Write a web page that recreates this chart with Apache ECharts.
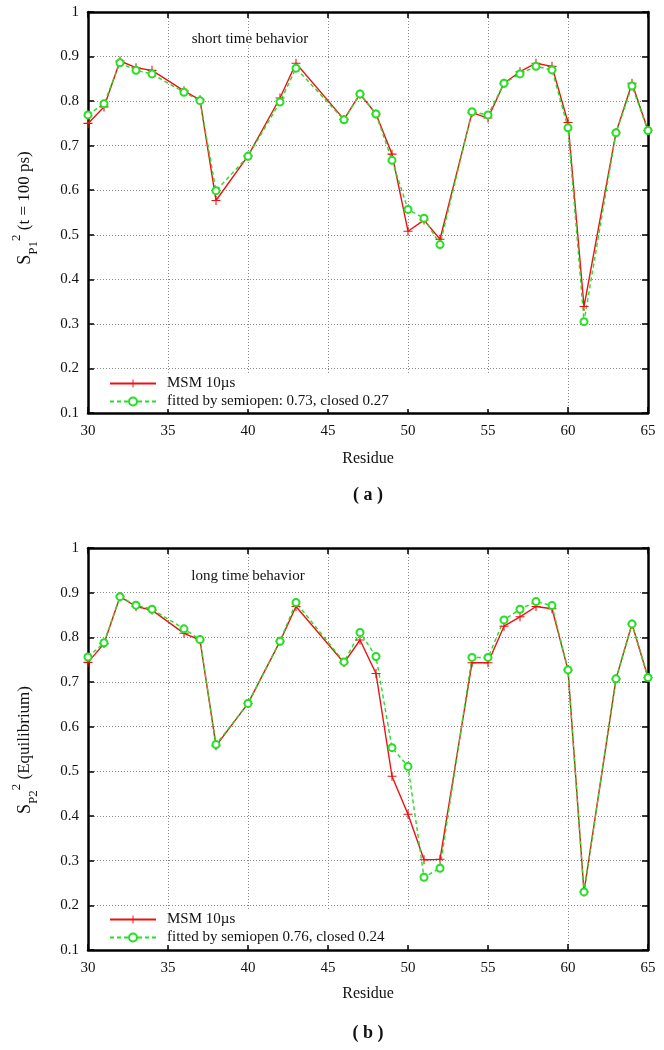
<!DOCTYPE html>
<html><head><meta charset="utf-8">
<script src="https://cdn.jsdelivr.net/npm/echarts@6/dist/echarts.min.js"></script>
<style>html,body{margin:0;padding:0;background:#fff}#c{width:664px;height:1050px}</style>
</head><body><div id="c"></div>
<script>
// ---- data ----
const residues = [30,31,32,33,34,36,37,38,40,42,43,46,47,48,49,50,51,52,54,55,56,57,58,59,60,61,63,64,65];
const msmShort = [0.750,0.787,0.890,0.875,0.869,0.823,0.803,0.577,0.677,0.807,0.885,0.759,0.816,0.771,0.681,0.508,0.533,0.490,0.774,0.762,0.840,0.866,0.885,0.878,0.752,0.339,0.729,0.840,0.734];
const fitShort = [0.769,0.794,0.886,0.869,0.861,0.820,0.801,0.599,0.676,0.798,0.874,0.758,0.816,0.771,0.667,0.557,0.537,0.478,0.776,0.769,0.840,0.861,0.878,0.870,0.740,0.305,0.729,0.834,0.734];
const msmLong  = [0.744,0.786,0.891,0.869,0.861,0.809,0.794,0.557,0.652,0.791,0.869,0.743,0.794,0.719,0.489,0.404,0.302,0.303,0.743,0.743,0.825,0.846,0.869,0.864,0.727,0.230,0.707,0.830,0.710];
const fitLong  = [0.756,0.788,0.891,0.872,0.863,0.819,0.795,0.560,0.652,0.791,0.878,0.745,0.811,0.757,0.553,0.511,0.263,0.283,0.755,0.755,0.839,0.863,0.880,0.871,0.727,0.230,0.707,0.830,0.710];
const xTickMin = 30, xTickMax = 65, xTickStep = 5;
const yTickMin = 0.1, yTickMax = 1, yTickStep = 0.1;
const msmName = 'MSM 10µs';
const fitNameA = 'fitted by semiopen: 0.73, closed 0.27';
const fitNameB = 'fitted by semiopen 0.76, closed 0.24';

// ---- styling ----
const FONT = '"Liberation Serif", "DejaVu Serif", serif';
const RED = '#ee1111', GREEN = '#22e022';
const PLUS = 'path://M-1,-0.12 L-0.12,-0.12 L-0.12,-1 L0.12,-1 L0.12,-0.12 L1,-0.12 L1,0.12 L0.12,0.12 L0.12,1 L-0.12,1 L-0.12,0.12 L-1,0.12 Z';
const pairs = arr => residues.map((r, i) => [r, arr[i]]);

const grids = [
  {left: 88, right: 16, top: 12, height: 401},
  {left: 88, right: 16, top: 548, height: 402}
];
const xAxes = [], yAxes = [];
grids.forEach((g, gi) => {
  const frame = {show: true, onZero: false, lineStyle: {color: '#000', width: 2.5}};
  const tick = {show: true, inside: true, length: 6, lineStyle: {color: '#000', width: 1.5}};
  xAxes.push({type: 'value', gridIndex: gi, min: xTickMin, max: xTickMax, interval: xTickStep, position: 'bottom',
    axisLine: frame, axisTick: tick,
    axisLabel: {color: '#111', fontFamily: FONT, fontSize: 15, margin: 11},
    splitLine: {show: true, lineStyle: {color: '#888', type: [1, 2], width: 1}}});
  xAxes.push({type: 'value', gridIndex: gi, min: xTickMin, max: xTickMax, interval: xTickStep, position: 'top',
    axisLine: frame, axisTick: tick, axisLabel: {show: false}, splitLine: {show: false}});
  yAxes.push({type: 'value', gridIndex: gi, min: yTickMin, max: yTickMax, interval: yTickStep, position: 'left',
    axisLine: frame, axisTick: tick,
    axisLabel: {color: '#111', fontFamily: FONT, fontSize: 15, margin: 9,
      formatter: v => String(Math.round(v * 10) / 10)},
    splitLine: {show: true, lineStyle: {color: '#888', type: [1, 2], width: 1}}});
  yAxes.push({type: 'value', gridIndex: gi, min: yTickMin, max: yTickMax, interval: yTickStep, position: 'right',
    axisLine: frame, axisTick: tick, axisLabel: {show: false}, splitLine: {show: false}});
});

function redSeries(name, data, gi) {
  return {type: 'line', name, data: pairs(data), xAxisIndex: gi * 2, yAxisIndex: gi * 2, clip: false,
    symbol: PLUS, symbolSize: 9, color: RED, itemStyle: {color: RED, borderWidth: 0},
    lineStyle: {color: RED, width: 1.4}, emphasis: {disabled: true}};
}
function greenSeries(name, data, gi) {
  return {type: 'line', name, data: pairs(data), xAxisIndex: gi * 2, yAxisIndex: gi * 2, clip: false,
    symbol: 'emptyCircle', symbolSize: 7, color: GREEN,
    itemStyle: {color: GREEN, borderColor: GREEN, borderWidth: 1.5},
    lineStyle: {color: GREEN, width: 1.4, type: [4, 3]}, emphasis: {disabled: true}};
}

const legendBase = {orient: 'vertical', left: 92, itemWidth: 46, itemHeight: 10, itemGap: 3,
  backgroundColor: '#fff', padding: [2, 130, 0, 17], selectedMode: false,
  textStyle: {fontFamily: FONT, fontSize: 15, color: '#111', lineHeight: 14, padding: [0, 0, 0, 6]},
  formatter: n => n.replace(/ \[[ab]\]$/, '')};

function yTitle(x, y, sub, rest) {
  return {type: 'text', x, y, rotation: Math.PI / 2,
    style: {text: '{s|S}{sub|' + sub + '}{sup|2}{n| ' + rest + '}', align: 'center', verticalAlign: 'middle',
      fill: '#111', font: '17px ' + FONT,
      rich: {
        s: {fontFamily: FONT, fontSize: 18, lineHeight: 30, verticalAlign: 'middle'},
        sub: {fontFamily: FONT, fontSize: 13, lineHeight: 13, verticalAlign: 'bottom'},
        sup: {fontFamily: FONT, fontSize: 13, lineHeight: 13, verticalAlign: 'top'},
        n: {fontFamily: FONT, fontSize: 17, lineHeight: 30, verticalAlign: 'middle'}
      }}};
}
function label(x, y, text, size, bold) {
  return {type: 'text', x, y, style: {text, align: 'center', verticalAlign: 'middle', fill: '#111',
    font: (bold ? 'bold ' : '') + size + 'px ' + FONT}};
}

const option = {
  animation: false,
  backgroundColor: '#fff',
  grid: grids,
  xAxis: xAxes,
  yAxis: yAxes,
  legend: [
    Object.assign({}, legendBase, {top: 374, data: [msmName + ' [a]', fitNameA]}),
    Object.assign({}, legendBase, {top: 910, data: [msmName + ' [b]', fitNameB]})
  ],
  series: [
    redSeries(msmName + ' [a]', msmShort, 0),
    greenSeries(fitNameA, fitShort, 0),
    redSeries(msmName + ' [b]', msmLong, 1),
    greenSeries(fitNameB, fitLong, 1)
  ],
  graphic: [
    label(250, 39, 'short time behavior', 15),
    label(248, 576, 'long time behavior', 15),
    label(368, 459, 'Residue', 16),
    label(368, 495, '( a )', 18, true),
    label(368, 994, 'Residue', 16),
    label(368, 1033, '( b )', 18, true),
    yTitle(25, 208, 'P1', '(t = 100 ps)'),
    yTitle(25, 750, 'P2', '(Equilibrium)')
  ]
};
echarts.init(document.getElementById('c'), null, {renderer: 'canvas'}).setOption(option);
</script>
</body></html>
